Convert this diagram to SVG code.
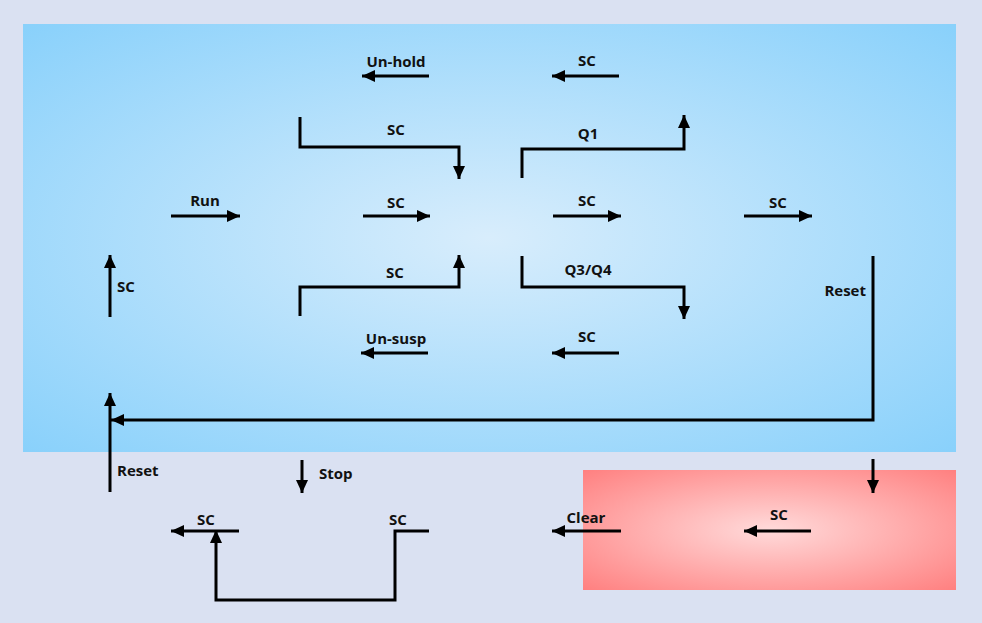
<svg xmlns="http://www.w3.org/2000/svg" width="982" height="623" viewBox="0 0 982 623">
<defs>
<radialGradient id="gBlue" cx="0.5" cy="0.5" r="0.75" gradientUnits="objectBoundingBox" fx="0.5" fy="0.5">
<stop offset="0" stop-color="#d8edfc"/>
<stop offset="1" stop-color="#84cffb"/>
</radialGradient>
<radialGradient id="gRed" cx="0.5" cy="0.5" r="0.72">
<stop offset="0" stop-color="#ffdada"/>
<stop offset="1" stop-color="#ff7e7e"/>
</radialGradient>
<marker id="ah" markerUnits="userSpaceOnUse" markerWidth="14" markerHeight="14" viewBox="0 0 14 14" refX="13" refY="7" orient="auto">
<path d="M0,1 L13,7 L0,13 Z" fill="#000"/>
</marker>
<style>
.c{fill:none;stroke:#000;stroke-width:3;stroke-linejoin:miter}
.a{marker-end:url(#ah)}
text{font-family:"Open Sans","Liberation Sans",sans-serif;font-weight:bold;font-size:15px;fill:#111}
.m{text-anchor:middle}
.e{text-anchor:end}
</style>
</defs>
<rect x="0" y="0" width="982" height="623" fill="#dae1f2"/>
<g id="regionBlue"><rect x="23" y="24" width="933" height="428" fill="url(#gBlue)"/></g>
<g id="regionRed"><rect x="583" y="470" width="373" height="120" fill="url(#gRed)"/></g>
<g id="connectors">
<path class="c a" d="M429,76 H362"/>
<path class="c a" d="M619,76 H552"/>
<path class="c a" d="M300,117 V147 H459 V179"/>
<path class="c a" d="M522,178 V149 H684 V115"/>
<path class="c a" d="M171,216 H240"/>
<path class="c a" d="M363,216 H430"/>
<path class="c a" d="M553,216 H621"/>
<path class="c a" d="M744,216 H812"/>
<path class="c a" d="M300,316 V287 H459 V255"/>
<path class="c a" d="M522,256 V287 H684 V319"/>
<path class="c a" d="M428,353 H361"/>
<path class="c a" d="M619,353 H552"/>
<path class="c a" d="M110,317 V255"/>
<path class="c a" d="M873,256 V420 H111"/>
<path class="c a" d="M110,492 V393"/>
<path class="c a" d="M302,460 V493"/>
<path class="c a" d="M239,531 H171"/>
<path class="c a" d="M429,531 H395 V600 H216 V530"/>
<path class="c a" d="M621,531 H552"/>
<path class="c a" d="M811,531 H744"/>
<path class="c a" d="M873,459 V493"/>
</g>
<g id="labels">
<text class="m" x="396" y="67">Un-hold</text>
<text class="m" x="587" y="66">SC</text>
<text class="m" x="396" y="135">SC</text>
<text class="m" x="588" y="139">Q1</text>
<text class="m" x="205" y="206">Run</text>
<text class="m" x="396" y="208">SC</text>
<text class="m" x="587" y="206">SC</text>
<text class="m" x="778" y="208">SC</text>
<text class="m" x="395" y="278">SC</text>
<text class="m" x="588" y="275">Q3/Q4</text>
<text class="m" x="396" y="344">Un-susp</text>
<text class="m" x="587" y="342">SC</text>
<text x="117" y="292">SC</text>
<text class="e" x="866" y="296">Reset</text>
<text x="117" y="476">Reset</text>
<text x="319" y="479">Stop</text>
<text class="m" x="206" y="525">SC</text>
<text class="m" x="398" y="525">SC</text>
<text class="m" x="586" y="523">Clear</text>
<text class="m" x="779" y="520">SC</text>
</g>
</svg>
